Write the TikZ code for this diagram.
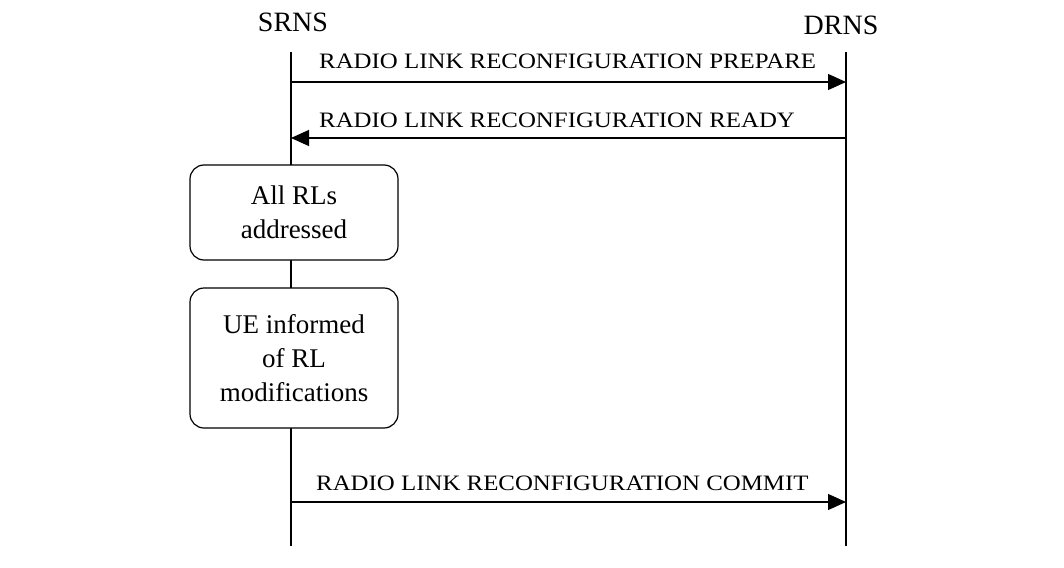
\documentclass[tikz,border=0pt]{standalone}
\usepackage{fontspec}
\setmainfont{Liberation Serif}
\newfontfamily\msgfont[FakeStretch=1.13]{Liberation Serif}
\usetikzlibrary{arrows.meta}
\tikzstyle{entity}=[inner sep=0pt, anchor=base, font=\fontsize{28}{34}\selectfont]
\tikzstyle{action}=[rectangle, draw, fill=white, rounded corners=14pt, line width=1.2pt, minimum width=208pt, align=center, font=\fontsize{27}{34}\selectfont]
\tikzstyle{msgtext}=[inner sep=0pt, anchor=base west, font=\msgfont\fontsize{22}{26}\selectfont]
\tikzstyle{msg}=[line width=1.2pt, -{Triangle[length=18pt, width=16pt]}]

\begin{document}
\begin{tikzpicture}[x=1pt, y=-1pt]
                    \useasboundingbox (0, 0) rectangle (1064, 567);
                    \node[entity] (srns) at (293, 32) {SRNS};
                    \node[entity] (drns) at (841, 35) {DRNS};
                    \coordinate (s top) at (291, 52);
                    \coordinate (s bot) at (291, 546);
                    \coordinate (d top) at (846, 52);
                    \coordinate (d bot) at (846, 546);
                    \draw[line width=1.2pt] (s top) -- (s bot) (d top) -- (d bot);
                    \node[action, minimum height=95pt] (addr) at (294, 212.5) {All RLs\\addressed};
                    \node[action, minimum height=140pt] (inform) at (294, 358) {UE informed\\of RL\\modifications};
                    \coordinate (prep s) at (291, 82);
                    \coordinate (prep d) at (846, 82);
                    \coordinate (ready s) at (291, 138);
                    \coordinate (ready d) at (846, 138);
                    \coordinate (commit s) at (291, 502);
                    \coordinate (commit d) at (846, 502);
                    \draw[msg] (prep s) -- (prep d);
                    \node[msgtext] (prep) at (319, 69) {RADIO LINK RECONFIGURATION PREPARE};
                    \draw[msg] (ready d) -- (ready s);
                    \node[msgtext] (ready) at (319, 128) {RADIO LINK RECONFIGURATION READY};
                    \draw[msg] (commit s) -- (commit d);
                    \node[msgtext] (commit) at (316, 490) {RADIO LINK RECONFIGURATION COMMIT};
                \end{tikzpicture}
\end{document}
